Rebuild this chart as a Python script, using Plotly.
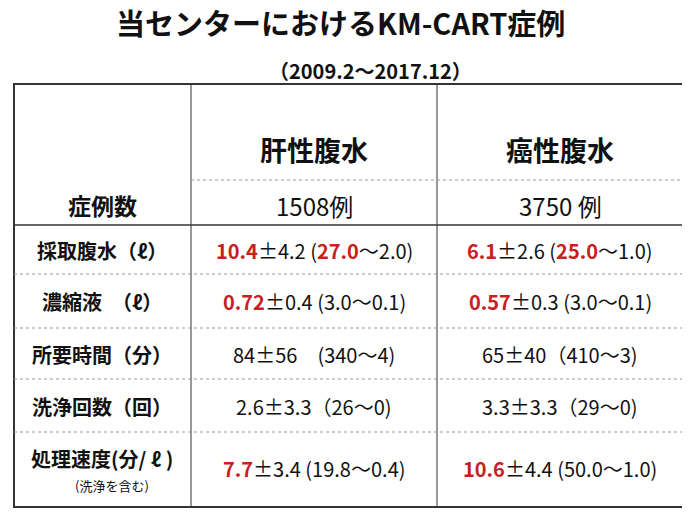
import plotly.graph_objects as go

title = "当センターにおけるKM-CART症例"
subtitle = "（2009.2～2017.12）"
col_headers = ["肝性腹水", "癌性腹水"]
count_label = "症例数"
counts = ["1508例", "3750 例"]
row_labels = ["採取腹水（ℓ）", "濃縮液　（ℓ）", "所要時間（分）", "洗浄回数（回）", "処理速度(分/ ℓ )"]
row_note = "(洗浄を含む)"
# (highlighted mean, rest, optional highlighted max, rest)
liver = [("10.4", "±4.2 (", "27.0", "～2.0)"), ("0.72", "±0.4 (3.0～0.1)", "", ""),
         ("", "84±56　(340～4)", "", ""), ("", "2.6±3.3（26～0)", "", ""),
         ("7.7", "±3.4 (19.8～0.4)", "", "")]
cancer = [("6.1", "±2.6 (", "25.0", "～1.0)"), ("0.57", "±0.3 (3.0～0.1)", "", ""),
          ("", "65±40（410～3)", "", ""), ("", "3.3±3.3（29～0)", "", ""),
          ("10.6", "±4.4 (50.0～1.0)", "", "")]

RED = "#c8201e"
def rich(t):
    s = ""
    if t[0]: s += f"<span style='color:{RED}'><b>{t[0]}</b></span>"
    s += t[1]
    if t[2]: s += f"<span style='color:{RED}'><b>{t[2]}</b></span>"
    s += t[3]
    return s

X0, X1, X2, X3 = 14, 191, 437, 683
Y0, YH, YC = 84, 180, 225
row_bounds = [225, 274, 328, 379, 432, 507]
row_centers = [250, 301, 354, 406, 468]

fig = go.Figure()
shapes = [dict(type="rect", x0=X0, x1=X3, y0=Y0, y1=507, line=dict(color="#333", width=2)),
          dict(type="line", x0=X1, x1=X1, y0=Y0, y1=507, line=dict(color="#333", width=1)),
          dict(type="line", x0=X2, x1=X2, y0=Y0, y1=507, line=dict(color="#333", width=1)),
          dict(type="line", x0=X1, x1=X3, y0=YH, y1=YH, line=dict(color="#999", width=1, dash="dot")),
          dict(type="line", x0=X0, x1=X3, y0=YC, y1=YC, line=dict(color="#333", width=1.5))]
for yb in row_bounds[1:-1]:
    shapes.append(dict(type="line", x0=X0, x1=X3, y0=yb, y1=yb, line=dict(color="#999", width=1, dash="dot")))

F = "Noto Sans CJK JP"
ann = [dict(x=340, y=22, text=f"<b>{title}</b>", font=dict(size=29, family=F)),
       dict(x=370, y=70, text=f"<b>{subtitle}</b>", font=dict(size=20, family=F)),
       dict(x=102, y=205, text=f"<b>{count_label}</b>", font=dict(size=23, family=F))]
for i, h in enumerate(col_headers):
    cx = (X1 + X2) / 2 if i == 0 else (X2 + X3) / 2
    ann.append(dict(x=cx, y=149, text=f"<b>{h}</b>", font=dict(size=27, family=F)))
    ann.append(dict(x=cx, y=205, text=counts[i], font=dict(size=24, family=F)))
for r, lab in enumerate(row_labels):
    y = row_centers[r] if r < 4 else 458
    ann.append(dict(x=102, y=y, text=f"<b>{lab}</b>", font=dict(size=20, family=F)))
    ann.append(dict(x=(X1 + X2) / 2, y=row_centers[r], text=rich(liver[r]), font=dict(size=20, family=F)))
    ann.append(dict(x=(X2 + X3) / 2, y=row_centers[r], text=rich(cancer[r]), font=dict(size=20, family=F)))
ann.append(dict(x=112, y=485, text=row_note, font=dict(size=13, family=F)))
for a in ann:
    a.update(xref="x", yref="y", showarrow=False, xanchor="center", yanchor="middle")
    a["font"]["color"] = "#111"

fig.update_layout(width=690, height=518, margin=dict(l=0, r=0, t=0, b=0),
                  paper_bgcolor="white", plot_bgcolor="white", shapes=shapes, annotations=ann,
                  xaxis=dict(range=[8, 698], visible=False, fixedrange=True),
                  yaxis=dict(range=[526, 8], visible=False, fixedrange=True), showlegend=False)
fig.write_html("out.html")
